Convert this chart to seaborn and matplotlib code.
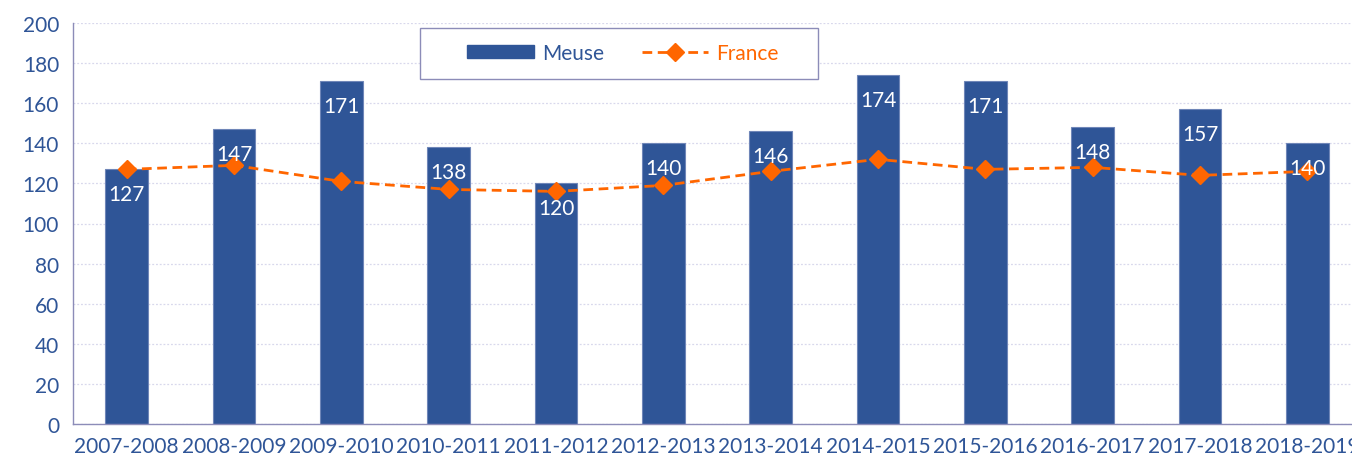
import numpy as np
import pandas as pd
import matplotlib
matplotlib.use("Agg")
import matplotlib.pyplot as plt
import seaborn as sns
from matplotlib.lines import Line2D
from matplotlib.patches import Patch, Rectangle

seasons = ["2007-2008", "2008-2009", "2009-2010", "2010-2011", "2011-2012", "2012-2013",
           "2013-2014", "2014-2015", "2015-2016", "2016-2017", "2017-2018", "2018-2019"]
meuse = [127, 147, 171, 138, 120, 140, 146, 174, 171, 148, 157, 140]
france = [127, 129, 121, 117, 116, 119, 126, 132, 127, 128, 124, 126]
y_ticks = list(range(0, 201, 20))

BLUE = "#2F5597"
ORANGE = "#FF6600"
AXIS = "#8C8CB8"
TEXT = "#2F5597"
W, H = 1352, 464

sns.set_theme(style="white")
plt.rcParams["font.family"] = ["Lato", "DejaVu Sans"]

df = pd.DataFrame({"season": seasons, "Meuse": meuse, "France": france})

fig = plt.figure(figsize=(W / 100, H / 100), dpi=100)
ax = fig.add_axes([73 / W, 39 / H, 1288 / W, 401 / H])

sns.barplot(data=df, x="season", y="Meuse", color=BLUE, width=0.4, saturation=1,
            edgecolor="#6F86B8", linewidth=0.8, ax=ax)
ax.plot(np.arange(len(seasons)), france, color=ORANGE, ls=(0, (3.5, 2)), lw=2,
        marker="D", ms=9.5, zorder=4)

for i, v in enumerate(meuse):
    ax.annotate(str(v), (i, v), xytext=(0, -18), textcoords="offset points",
                ha="center", va="center", color="white", fontsize=15, zorder=5)

ax.set_xlim(-0.5, len(seasons) - 0.5)
ax.set_ylim(0, 200)
ax.set_yticks(y_ticks)
ax.set_xlabel("")
ax.set_ylabel("")
ax.yaxis.grid(True, color="#D8D8EC", ls=(0, (1.5, 1.5)), lw=0.9)
ax.set_axisbelow(True)

for s in ["top", "right"]:
    ax.spines[s].set_visible(False)
for s in ["left", "bottom"]:
    ax.spines[s].set_color(AXIS)
    ax.spines[s].set_linewidth(1.0)

ax.tick_params(axis="y", direction="inout", length=10, width=1, color=AXIS,
               labelcolor=TEXT, labelsize=15, pad=5)
ax.tick_params(axis="x", which="major", length=0, labelcolor=TEXT, labelsize=15, pad=9)
ax.set_xticks(np.arange(len(seasons) + 1) - 0.5, minor=True)
ax.tick_params(axis="x", which="minor", direction="out", length=11, width=1, color=AXIS)

# legend box drawn separately so the side padding can be wider than the top/bottom
fig.patches.append(Rectangle((420 / W, 1 - 80 / H), 398 / W, 51 / H,
                             transform=fig.transFigure, facecolor="white",
                             edgecolor=AXIS, linewidth=1.0, zorder=5))
handles = [Patch(facecolor=BLUE, edgecolor=BLUE, label="Meuse"),
           Line2D([], [], color=ORANGE, ls=(0, (3.5, 2)), lw=2, marker="D", ms=9.5,
                  label="France")]
leg = fig.legend(handles=handles, ncol=2, loc="center",
                 bbox_to_anchor=(623 / W, 1 - 54 / H), fontsize=15,
                 frameon=False, handlelength=3.2, handleheight=0.55,
                 handletextpad=0.4, columnspacing=1.8, borderpad=0)
leg.set_zorder(6)
leg.get_texts()[0].set_color(TEXT)
leg.get_texts()[1].set_color(ORANGE)

fig.savefig("out.png", dpi=100)
